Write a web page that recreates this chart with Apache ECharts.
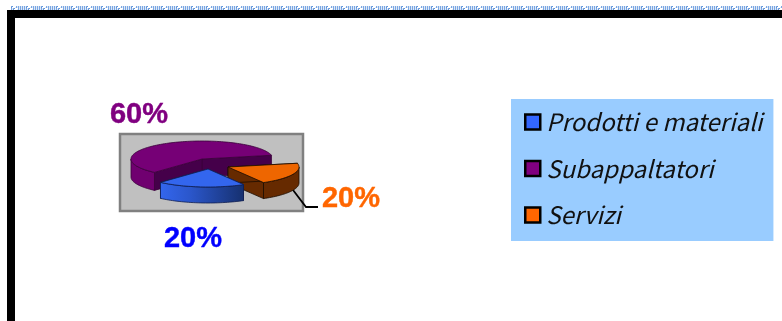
<!DOCTYPE html>
<html>
<head>
<meta charset="utf-8">
<style>html,body{margin:0;padding:0;background:#fff}#chart{width:782px;height:321px}</style>
<script src="https://cdn.jsdelivr.net/npm/echarts@6/dist/echarts.min.js"></script>
</head>
<body>
<div id="chart"></div>
<script>
// Cost breakdown, in percent, listed in the order the slices run round the pie
const categories = ['Subappaltatori', 'Prodotti e materiali', 'Servizi'];
const shares = [60, 20, 20];
const legendOrder = ['Prodotti e materiali', 'Subappaltatori', 'Servizi'];

// Tilted pie geometry
const CX = 202, CY = 159, RX = 71, RY = 18;
const FIRST_ANGLE = 12;
const explode = [[0, 0, 18], [6, 10, 16], [26, 8, 16]];   // dx, dy, wall depth
const labelAt = [[139, 115], [193, 239], [351, 199]];
const swatch = ['#800080', '#3366ff', '#ff6600'];
const labelColor = ['#800080', '#0000ff', '#ff6600'];
const topColor = ['#760076', '#3366ee', '#ee6600'];
const wallColor = ['#700070',
  { type: 'linear', x: 0, y: 0, x2: 1, y2: 0,
    colorStops: [{ offset: 0, color: '#3366ee' }, { offset: 0.35, color: '#2b57cc' }, { offset: 1, color: '#16306f' }] },
  '#662a00'];
const sideColor = ['#45004a', '#16306f', '#662a00'];
const edgeColor = ['#3a003a', '#101e50', '#1c0c00'];

const total = shares.reduce((a, b) => a + b, 0);

function startAngle(i) {
  let sum = 0;
  for (let k = 0; k < i; k++) sum += shares[k];
  return FIRST_ANGLE + sum / total * 360;
}

function rim(cx, cy, deg) {
  const t = deg * Math.PI / 180;
  return [cx + RX * Math.cos(t), cy - RY * Math.sin(t)];
}

function arc(cx, cy, from, to) {
  const pts = [];
  for (let d = from; d < to; d += 2) pts.push(rim(cx, cy, d));
  pts.push(rim(cx, cy, to));
  return pts;
}

function renderSlice(i, api) {
  const value = api.value(0);
  const a0 = startAngle(i);
  const a1 = a0 + value / total * 360;
  const [dx, dy, depth] = explode[i];
  const cx = CX + dx, cy = CY + dy;
  const apex = [cx, cy];
  const shapes = [];
  const poly = (points, fill, stroke, w) => shapes.push({
    type: 'polygon', shape: { points },
    style: { fill, stroke: stroke || null, lineWidth: w || 0, lineJoin: 'round' }
  });
  const down = p => [p[0], p[1] + depth];

  // radial walls
  [a0, a1].forEach(a => {
    const p = rim(cx, cy, a);
    poly([apex, p, down(p), down(apex)], sideColor[i], edgeColor[i], 0.8);
  });
  // curved outer wall, only the near half of the rim shows it
  [[180, 360], [540, 720]].forEach(([lo, hi]) => {
    const from = Math.max(a0, lo), to = Math.min(a1, hi);
    if (from < to) {
      const rimPts = arc(cx, cy, from, to);
      poly(rimPts.concat(rimPts.map(down).reverse()), wallColor[i], edgeColor[i], 0.8);
    }
  });
  // top face
  poly([apex].concat(arc(cx, cy, a0, a1)), topColor[i], edgeColor[i], 0.8);
  // percentage label
  shapes.push({
    type: 'text', z2: 10,
    style: {
      x: labelAt[i][0], y: labelAt[i][1], text: value + '%',
      fill: labelColor[i], stroke: labelColor[i], lineWidth: 0.4,
      font: 'bold 29px "Liberation Sans", Arial, sans-serif',
      align: 'center', verticalAlign: 'middle'
    }
  });
  return { type: 'group', children: shapes };
}

// Dithered strip along the very top of the sheet
function stripPattern() {
  const c = document.createElement('canvas');
  c.width = 15; c.height = 4;
  const g = c.getContext('2d');
  g.fillStyle = '#ffffff'; g.fillRect(0, 0, 15, 4);
  for (let y = 0; y < 4; y++) {
    for (let x = 0; x < 11; x++) {
      g.fillStyle = (x + y) % 2 === 0 ? '#7aa6e2' : '#dde9f8';
      g.fillRect(x + 3 - y, y, 1, 1);
    }
    g.fillStyle = '#5f94dc';
    g.fillRect(14 - y, y, 1, 1);
  }
  return c;
}

const chart = echarts.init(document.getElementById('chart'), null, { renderer: 'canvas' });

// Slices are painted back to front so the nearer ones overlap correctly
const paintRank = [0, 2, 1];

chart.setOption({
  animation: false,
  backgroundColor: '#ffffff',
  legend: {
    data: legendOrder.map(name => {
      const i = categories.indexOf(name);
      return { name, itemStyle: { color: swatch[i], borderColor: '#000', borderWidth: 2.5 } };
    }),
    orient: 'vertical', left: 511, top: 99,
    backgroundColor: '#99ccff', padding: [11, 11, 14, 13],
    itemWidth: 15, itemHeight: 15, itemGap: 22.5, icon: 'rect',
    selectedMode: false,
    textStyle: { color: '#111', fontStyle: 'italic', fontSize: 24, lineHeight: 24, fontFamily: '"Noto Sans CJK JP", sans-serif', padding: [0, 0, 0, 1] }
  },
  graphic: [
    { type: 'rect', z: 0, shape: { x: 7, y: 10, width: 800, height: 8 }, style: { fill: '#000' } },
    { type: 'rect', z: 0, shape: { x: 7, y: 10, width: 8, height: 320 }, style: { fill: '#000' } },
    { type: 'rect', z: 0, shape: { x: 11, y: 6, width: 771, height: 4 }, style: { fill: { image: stripPattern(), repeat: 'repeat' } } },
    { type: 'rect', z: 0, shape: { x: 120, y: 134, width: 183, height: 77 }, style: { fill: '#c0c0c0', stroke: '#808080', lineWidth: 2.5 } },
    { type: 'polyline', z: 0, shape: { points: [[293, 190], [306, 207], [318, 207]] }, style: { fill: null, stroke: '#000', lineWidth: 1.8 } }
  ],
  series: categories.map((name, i) => ({
    type: 'custom',
    name,
    coordinateSystem: 'none',
    z: 2 + paintRank[i],
    silent: true,
    itemStyle: { color: swatch[i] },
    data: [[shares[i]]],
    renderItem: (params, api) => renderSlice(i, api)
  }))
});
</script>
</body>
</html>
